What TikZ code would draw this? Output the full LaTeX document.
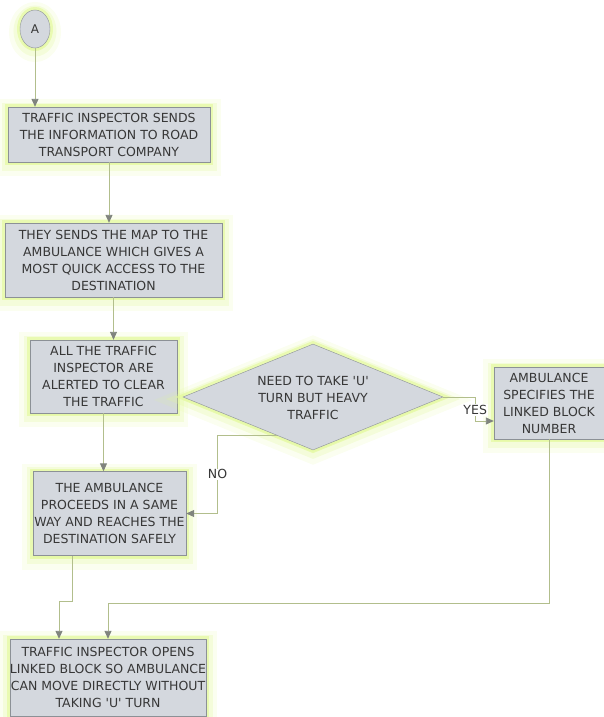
\documentclass[tikz,border=0pt]{standalone}
\usepackage{fontspec}
\setmainfont{DejaVu Sans}
\usetikzlibrary{arrows.meta, shapes.geometric, positioning, calc}
\definecolor{boxfill}{RGB}{212,216,222}
\definecolor{boxline}{RGB}{140,145,150}
\definecolor{glowcol}{RGB}{225,248,150}
\definecolor{linkcol}{RGB}{178,190,140}
\definecolor{tipcol}{RGB}{128,132,126}
\definecolor{txtcol}{RGB}{55,55,55}
\tikzset{
    glow/.style={
        preaction={draw=glowcol, fill=glowcol, line width=22pt, opacity=0.14,
            transform canvas={yshift=-3pt}},
        preaction={draw=glowcol, fill=glowcol, line width=13pt, opacity=0.25,
            transform canvas={yshift=-2pt}},
        preaction={draw=glowcol, line width=6pt, opacity=0.6}},
    procbox/.style={rectangle, glow, fill=boxfill, draw=boxline, text=txtcol,
        align=center, inner sep=0pt, font=\fontsize{12.5}{17}\selectfont},
    askbox/.style={diamond, glow, fill=boxfill, draw=boxline, text=txtcol,
        inner sep=0pt, font=\fontsize{12.5}{17}\selectfont},
    link/.style={draw=linkcol, line width=0.9pt,
        -{Triangle[length=8pt, width=7pt, color=tipcol]}},
    tag/.style={text=txtcol, font=\fontsize{12.5}{14}\selectfont, fill=white, inner sep=1pt}
}
% text that does not widen the node it sits in
\newcommand{\flattext}[1]{\makebox[0pt]{\smash{\raisebox{-5pt}{\begin{tabular}{@{}c@{}}#1\end{tabular}}}}}

\begin{document}
\begin{tikzpicture}[x=1pt, y=-1pt]
            \useasboundingbox (0, 0) rectangle (604, 717);
            % start
            \node[ellipse, glow, fill=boxfill, draw=boxline, text=txtcol,
                minimum width=30, minimum height=38, inner sep=0pt,
                font=\fontsize{12}{14}\selectfont] (start) at (35, 29) {A};
            % left column
            \node[procbox, minimum width=202, minimum height=55] (inform) at (109, 134.5)
                {TRAFFIC INSPECTOR SENDS\\THE INFORMATION TO ROAD\\TRANSPORT COMPANY};
            \node[procbox, minimum width=217, minimum height=74] (sendmap) at (113.5, 260)
                {THEY SENDS THE MAP TO THE\\AMBULANCE WHICH GIVES A\\MOST QUICK ACCESS TO THE\\DESTINATION};
            \node[procbox, minimum width=147, minimum height=73] (alert) at (103.5, 376.5)
                {ALL THE TRAFFIC\\INSPECTOR ARE\\ALERTED TO CLEAR\\THE TRAFFIC};
            \node[askbox, minimum width=260, minimum height=106] (uturn) at (313, 397)
                {\flattext{NEED TO TAKE \textquotesingle U\textquotesingle\\TURN BUT HEAVY\\TRAFFIC}};
            \node[procbox, minimum width=110, minimum height=72] (linked) at (549, 403)
                {AMBULANCE\\SPECIFIES THE\\LINKED BLOCK\\NUMBER};
            \node[procbox, minimum width=153, minimum height=84] (proceed) at (109.5, 513.5)
                {THE AMBULANCE\\PROCEEDS IN A SAME\\WAY AND REACHES THE\\DESTINATION SAFELY};
            \node[procbox, minimum width=196, minimum height=77] (opens) at (108, 677.5)
                {TRAFFIC INSPECTOR OPENS\\LINKED BLOCK SO AMBULANCE\\CAN MOVE DIRECTLY WITHOUT\\TAKING \textquotesingle U\textquotesingle{} TURN};
            % connectors
            \draw[link] (start.south) -- (start.south |- inform.north);
            \draw[link] (inform.south) -- (inform.south |- sendmap.north);
            \draw[link] (sendmap.south) -- (sendmap.south |- alert.north);
            \draw[link] (alert.south) -- (alert.south |- proceed.north);
            \draw[link] (uturn.east) -- ++(32, 0) |- ([yshift=-18pt]linked.west)
                node[tag, pos=0.27] {YES};
            \draw[link] ($(uturn.south)!0.28!(uturn.west)$) -- ++(-59, 0) |- (proceed.east)
                node[tag, pos=0.25] {NO};
            \draw[link] ([xshift=-37.5pt]proceed.south) -- ++(0, 46) -| ([xshift=-49pt]opens.north);
            \draw[link] (linked.south) -- ++(0, 164) -| (opens.north);
        \end{tikzpicture}
\end{document}
